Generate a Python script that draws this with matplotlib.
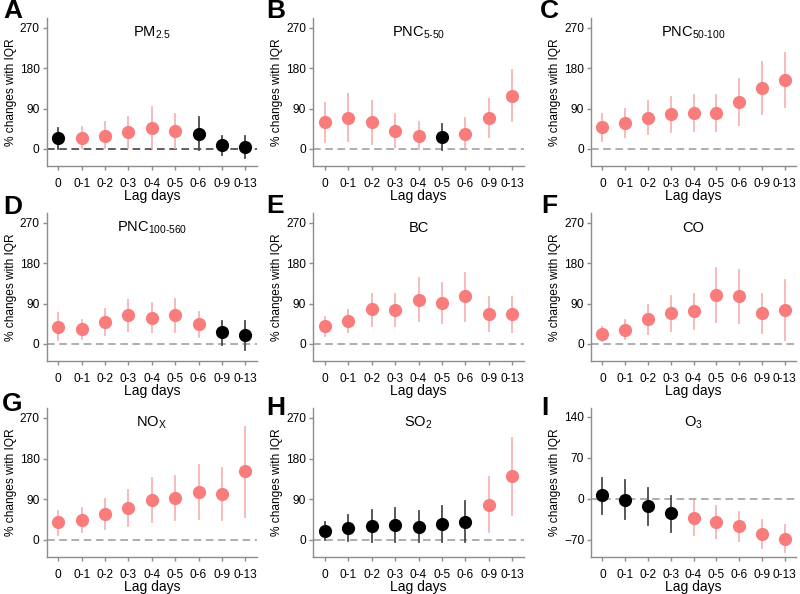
import numpy as np
import matplotlib
matplotlib.use('Agg')
import matplotlib.pyplot as plt

plt.rcParams['font.family'] = ['Liberation Sans', 'DejaVu Sans']
plt.rcParams['mathtext.fontset'] = 'custom'
plt.rcParams['mathtext.rm'] = 'Liberation Sans'
plt.rcParams['mathtext.it'] = 'Liberation Sans'

lags = ['0', '0-1', '0-2', '0-3', '0-4', '0-5', '0-6', '0-9', '0-13']

# estimates, lower and upper limits (% change per IQR)
pm25 = [24, 25.5, 30, 37, 46.5, 40.5, 34, 9, 5]
pm25_lo = [-1, 2, 2, 2, 3, 3, -2, -13.5, -21]
pm25_hi = [46.5, 50, 59, 71, 93, 79, 70.5, 30, 30]

pnc5 = [60.5, 70, 60.5, 40, 29.5, 27, 33, 70, 117]
pnc5_lo = [16, 18, 11, 4, 1, -2, 1.5, 27, 62]
pnc5_hi = [102.5, 123, 108, 77, 60.5, 55, 68, 112, 175]

pnc50 = [49, 57, 69.5, 77, 80, 80, 105, 137, 154]
pnc50_lo = [18, 25.6, 33, 38, 40, 40, 53, 77, 93]
pnc50_hi = [77, 89, 106, 115, 121, 121, 156, 195, 214]

pnc100 = [38, 32.5, 49.5, 64, 58, 64, 44, 26, 20.6]
pnc100_lo = [9, 11, 21, 29, 26, 26, 16, -2, -13]
pnc100_hi = [70, 53, 77, 99, 91.5, 101, 71.5, 52, 52]

bc = [41, 51, 77, 76.5, 99, 91.5, 106.5, 66, 66]
bc_lo = [17, 26, 40, 40, 52, 46.5, 51, 28, 26]
bc_hi = [60, 75, 112.5, 111, 146, 135, 157.5, 104, 105]

co = [22, 32, 54.6, 68.6, 73, 109, 106, 69, 75]
co_lo = [7, 11, 22, 29, 32.5, 49, 47, 25, 9]
co_hi = [38, 53, 86, 107, 112, 169, 164, 112, 141.6]

nox = [39, 43.5, 58, 70.5, 88.5, 93, 106.5, 101, 151.5]
nox_lo = [11, 16.5, 25, 31.5, 39, 43, 46.5, 43, 51]
nox_hi = [64, 70, 90, 110, 136.5, 142.5, 165, 160, 251]

so2 = [19, 26, 30, 32, 28.5, 34, 40.5, 78, 141]
so2_lo = [-1, -1.5, -4, -4, -4, -4, -4, 17, 55]
so2_hi = [40, 55, 65, 71, 64, 75, 85, 139, 226.5]

o3 = [6, -2, -12, -23.5, -32, -39, -46, -59, -68.5]
o3_lo = [-25, -35, -44, -56, -61, -67, -71, -83.5, -91]
o3_hi = [36, 32.5, 18.5, 5.6, -4, -12, -22, -36, -45]

panels = [
    ('A', r'PM$_{2.5}$', pm25, pm25_lo, pm25_hi),
    ('B', r'PNC$_{5\text{-}50}$', pnc5, pnc5_lo, pnc5_hi),
    ('C', r'PNC$_{50\text{-}100}$', pnc50, pnc50_lo, pnc50_hi),
    ('D', r'PNC$_{100\text{-}560}$', pnc100, pnc100_lo, pnc100_hi),
    ('E', 'BC', bc, bc_lo, bc_hi),
    ('F', 'CO', co, co_lo, co_hi),
    ('G', r'NO$_{\mathrm{X}}$', nox, nox_lo, nox_hi),
    ('H', r'SO$_2$', so2, so2_lo, so2_hi),
    ('I', r'O$_3$', o3, o3_lo, o3_hi),
]

PINK = '#f87c7c'
PINK_BAR = '#f9b3b3'
BLACK = '#000000'
BLACK_BAR = '#4a4a4a'
SPINE = '#8c8c8c'

W, H = 800, 594
fig = plt.figure(figsize=(8, 5.94), dpi=100)

cols = [(46.5, 257), (313, 524), (591, 796)]
rows = [(18, 166), (213, 361), (408, 557)]
letters = [(13, 11), (276, 11), (549, 11),
           (13, 207), (275, 206), (549, 206),
           (12, 404), (276, 408), (545, 408)]

for i, (letter, name, est, lo, hi) in enumerate(panels):
    r, c = divmod(i, 3)
    x0, x1 = cols[c]
    y0, y1 = rows[r]
    ax = fig.add_axes([x0 / W, 1 - y1 / H, (x1 - x0) / W, (y1 - y0) / H])
    x = np.arange(len(lags))
    est = np.array(est)
    lo = np.array(lo)
    hi = np.array(hi)
    sig = (lo > 0) | (hi < 0)
    for k in x:
        bar_c = PINK_BAR if sig[k] else BLACK_BAR
        dot_c = PINK if sig[k] else BLACK
        ax.plot([k, k], [lo[k], hi[k]], color=bar_c, lw=1.3, zorder=2)
        ax.plot(k, est[k], 'o', color=dot_c, ms=9.5, mec='none', zorder=3)
    zc = '#333333' if letter == 'A' else '#999999'
    ax.axhline(0, color=zc, lw=1.1, ls=(0, (5, 3)), zorder=1)
    ax.set_xlim(-0.5, 8.5)
    if letter == 'I':
        ax.set_ylim(-99, 155)
        ax.set_yticks([-70, 0, 70, 140])
    else:
        ax.set_ylim(-38, 292)
        ax.set_yticks([0, 90, 180, 270])
    ax.set_xticks(x)
    ax.set_xticklabels(lags)
    for s in ['top', 'right']:
        ax.spines[s].set_visible(False)
    for s in ['left', 'bottom']:
        ax.spines[s].set_color(SPINE)
        ax.spines[s].set_linewidth(1.0)
    ax.tick_params(axis='both', colors=SPINE, labelcolor='black', labelsize=8.6,
                   length=3, width=1.0, pad=2)
    ax.tick_params(axis='x', pad=6)
    ax.set_ylabel('% changes with IQR', fontsize=8.6, labelpad=2)
    ax.set_xlabel('Lag days', fontsize=10, labelpad=-1)
    ax.text(0.5, 0.9, name, transform=ax.transAxes, ha='center', va='center',
            fontsize=10.5)
    lx, ly = letters[i]
    fig.text(lx / W, 1 - ly / H, letter, ha='center', va='center',
             fontsize=19, fontweight='bold')

fig.savefig('out.png', dpi=100)
